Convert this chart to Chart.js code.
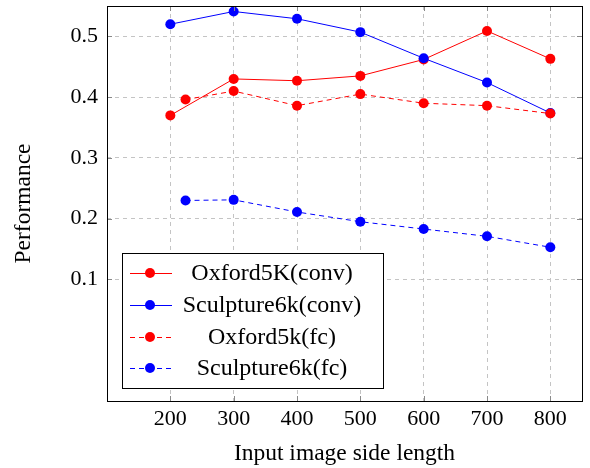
<!DOCTYPE html>
<html>
<head>
<meta charset="utf-8">
<script src="https://cdn.jsdelivr.net/npm/chart.js@4"></script>
<style>
  html, body { margin: 0; padding: 0; background: #fff; }
  #wrap { width: 590px; height: 468px; }
</style>
</head>
<body>
<div id="wrap"><canvas id="chart" width="590" height="468"></canvas></div>
<script>
// Data
const sizes = [200, 300, 400, 500, 600, 700, 800];
const fcSizes = [224, 300, 400, 500, 600, 700, 800];
const oxfordConv = [0.370, 0.430, 0.427, 0.435, 0.462, 0.509, 0.463];
const sculptureConv = [0.520, 0.541, 0.529, 0.507, 0.464, 0.424, 0.374];
const oxfordFc = [0.396, 0.410, 0.386, 0.405, 0.390, 0.386, 0.373];
const sculptureFc = [0.230, 0.231, 0.211, 0.195, 0.183, 0.171, 0.153];
const xTicks = [200, 300, 400, 500, 600, 700, 800];
const yTicks = [0.1, 0.2, 0.3, 0.4, 0.5];

const FONT = "'Liberation Serif', 'DejaVu Serif', serif";
const RED = '#ff0000';
const BLUE = '#0000ff';

function points(xs, ys) {
    return xs.map((x, i) => ({ x: x, y: ys[i] }));
}

function makeSet(label, xs, ys, color, dashed, order) {
    return {
        label: label,
        data: points(xs, ys),
        borderColor: color,
        backgroundColor: color,
        borderWidth: 1,
        borderDash: dashed ? [5, 4] : [],
        pointRadius: 5,
        pointHoverRadius: 5,
        pointBorderWidth: 0,
        pointBackgroundColor: color,
        tension: 0,
        dashed: dashed,
        order: order
    };
}

// frame, inner tick marks and legend box drawn on the canvas
const framePlugin = {
    id: 'frame',
    afterDatasetsDraw(chart) {
        const ctx = chart.ctx;
        const a = chart.chartArea;
        const xs = chart.scales.x, ys = chart.scales.y;
        ctx.save();
        // inner tick marks
        ctx.strokeStyle = '#888';
        ctx.lineWidth = 1;
        ctx.setLineDash([]);
        ctx.beginPath();
        xTicks.forEach(v => {
            const px = Math.round(xs.getPixelForValue(v)) + 0.5;
            ctx.moveTo(px, a.bottom); ctx.lineTo(px, a.bottom - 5);
            ctx.moveTo(px, a.top); ctx.lineTo(px, a.top + 5);
        });
        yTicks.forEach(v => {
            const py = Math.round(ys.getPixelForValue(v)) + 0.5;
            ctx.moveTo(a.left, py); ctx.lineTo(a.left + 5, py);
            ctx.moveTo(a.right, py); ctx.lineTo(a.right - 5, py);
        });
        ctx.stroke();
        // frame
        ctx.strokeStyle = '#000';
        ctx.strokeRect(Math.round(a.left) + 0.5, Math.round(a.top) + 0.5,
            Math.round(a.right - a.left), Math.round(a.bottom - a.top));

        // legend
        const box = { x: 122.5, y: 253.5, w: 261, h: 135 };
        ctx.fillStyle = '#fff';
        ctx.fillRect(box.x, box.y, box.w, box.h);
        ctx.strokeStyle = '#000';
        ctx.strokeRect(box.x, box.y, box.w, box.h);
        const rows = [273, 305, 337, 368];
        chart.data.datasets.forEach((ds, i) => {
            const y = rows[i];
            ctx.strokeStyle = ds.borderColor;
            ctx.lineWidth = 1;
            ctx.setLineDash(ds.dashed ? [5, 4] : []);
            ctx.beginPath();
            ctx.moveTo(130, y + 0.5);
            ctx.lineTo(172, y + 0.5);
            ctx.stroke();
            ctx.setLineDash([]);
            ctx.fillStyle = ds.borderColor;
            ctx.beginPath();
            ctx.arc(150, y, 5, 0, Math.PI * 2);
            ctx.fill();
            ctx.fillStyle = '#000';
            ctx.font = '24px ' + FONT;
            ctx.textAlign = 'center';
            ctx.textBaseline = 'middle';
            ctx.fillText(ds.label, 272, y + 1);
        });
        ctx.restore();
    }
};

new Chart(document.getElementById('chart'), {
    type: 'line',
    data: {
        datasets: [
            makeSet('Oxford5K(conv)', sizes, oxfordConv, RED, false, 4),
            makeSet('Sculpture6k(conv)', sizes, sculptureConv, BLUE, false, 3),
            makeSet('Oxford5k(fc)', fcSizes, oxfordFc, RED, true, 2),
            makeSet('Sculpture6k(fc)', fcSizes, sculptureFc, BLUE, true, 1)
        ]
    },
    options: {
        responsive: false,
        animation: false,
        events: [],
        layout: { padding: { top: 6, right: 8, left: 0, bottom: 0 } },
        plugins: {
            legend: { display: false },
            tooltip: { enabled: false }
        },
        scales: {
            x: {
                type: 'linear',
                min: 100,
                max: 850,
                afterBuildTicks(scale) {
                    scale.ticks = xTicks.map(v => ({ value: v }));
                },
                afterFit(scale) {
                    scale.height = 67;
                    scale.paddingLeft = 0;
                    scale.paddingRight = 0;
                },
                grid: {
                    color: '#c4c4c4',
                    lineWidth: 1,
                    drawTicks: false
                },
                border: { display: false, dash: [4, 4] },
                ticks: {
                    color: '#000',
                    font: { family: FONT, size: 22 },
                    padding: 5,
                    maxRotation: 0,
                    callback: v => String(v)
                },
                title: {
                    display: true,
                    text: 'Input image side length',
                    color: '#000',
                    font: { family: FONT, size: 23.5 },
                    padding: { top: 7, bottom: 0 }
                }
            },
            y: {
                type: 'linear',
                min: -0.1,
                max: 0.55,
                afterBuildTicks(scale) {
                    scale.ticks = yTicks.map(v => ({ value: v }));
                },
                afterFit(scale) {
                    scale.width = 107;
                    scale.paddingTop = 0;
                    scale.paddingBottom = 0;
                },
                grid: {
                    color: '#c4c4c4',
                    lineWidth: 1,
                    drawTicks: false
                },
                border: { display: false, dash: [4, 4] },
                ticks: {
                    color: '#000',
                    font: { family: FONT, size: 22 },
                    padding: 9,
                    callback: v => v.toFixed(1)
                },
                title: {
                    display: true,
                    text: 'Performance',
                    color: '#000',
                    font: { family: FONT, size: 23.5 },
                    padding: { top: 10, bottom: 0 }
                }
            }
        }
    },
    plugins: [framePlugin]
});
</script>
</body>
</html>
